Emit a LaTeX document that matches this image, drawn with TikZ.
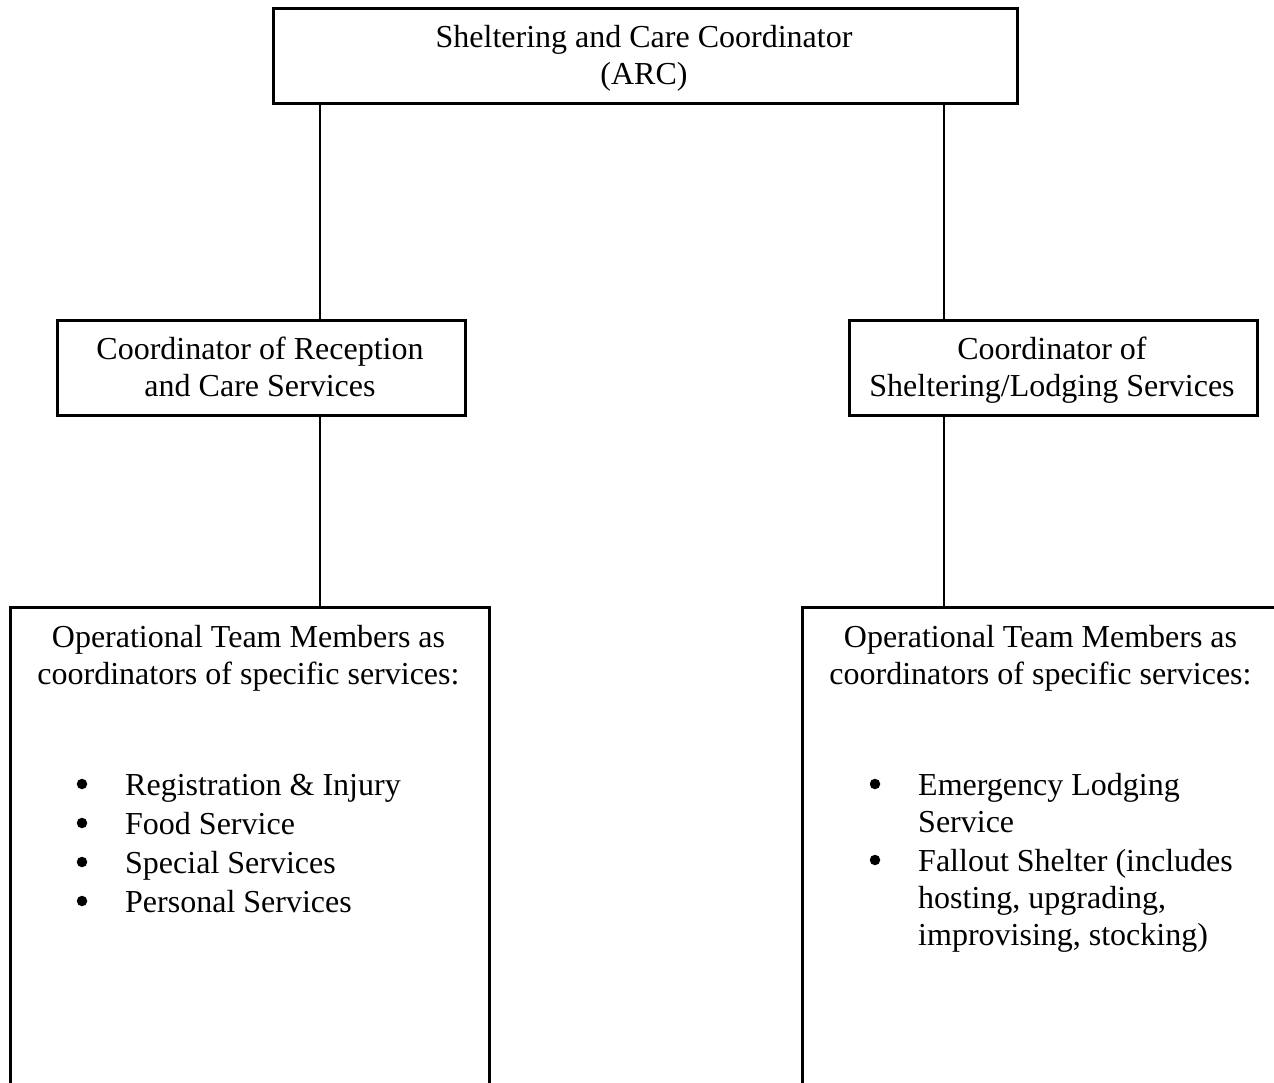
\documentclass[tikz,border=0pt]{standalone}
\usepackage{fontspec}
\setmainfont{Liberation Serif}
\newcommand\mystrut{\rule{0pt}{26pt}}
\begin{document}
\begin{tikzpicture}[x=1pt,y=-1pt,
  every node/.style={font=\fontsize{32}{37}\selectfont},
  box/.style={draw, line width=2.6pt, inner sep=0pt, anchor=north west},
  conn/.style={draw, line width=2.6pt},
  ctext/.style={anchor=north, inner sep=0pt, align=center},
  ltext/.style={anchor=north west, inner sep=0pt, align=left},
  bul/.style={circle, fill, inner sep=0pt, minimum size=10.5pt}]
\useasboundingbox (0,0) rectangle (1274,1082);
\clip (0,0) rectangle (1274,1082);
% boxes
\node[box, minimum width=744pt, minimum height=95pt] (top) at (272,7) {};
\node[box, minimum width=408pt, minimum height=95pt] (ml) at (56,319) {};
\node[box, minimum width=408pt, minimum height=95pt] (mr) at (848,319) {};
\node[box, minimum width=479pt, minimum height=520pt] (bl) at (9,606) {};
\node[box, minimum width=479pt, minimum height=520pt] (br) at (801,606) {};
% texts
\node[ctext] (ttop) at (644,47-26) {\mystrut Sheltering and Care Coordinator\\(ARC)};
\node[ctext] (tml) at (260,359-26) {\mystrut Coordinator of Reception\\and Care Services};
\node[ctext] (tmr) at (1052,359-26) {\mystrut Coordinator of\\Sheltering/Lodging Services};
\node[ctext] (tbl) at (248.5,647-26) {\mystrut Operational Team Members as\\coordinators of specific services:};
\node[ctext] (tbr) at (1040.5,647-26) {\mystrut Operational Team Members as\\coordinators of specific services:};
% left list
\node[bul] (bl1) at (82,795-11) {};
\node[bul] (bl2) at (82,834-11) {};
\node[bul] (bl3) at (82,873-11) {};
\node[bul] (bl4) at (82,912-11) {};
\node[anchor=base west, inner sep=0pt] (il1) at (125,795) {Registration \& Injury};
\node[anchor=base west, inner sep=0pt] (il2) at (125,834) {Food Service};
\node[anchor=base west, inner sep=0pt] (il3) at (125,873) {Special Services};
\node[anchor=base west, inner sep=0pt] (il4) at (125,912) {Personal Services};
% right list
\node[bul] (br1) at (875,795-11) {};
\node[bul] (br2) at (875,871-11) {};
\node[ltext] (ir1) at (918,795-26) {\mystrut Emergency Lodging\\Service};
\node[ltext] (ir2) at (918,871-26) {\mystrut Fallout Shelter (includes\\hosting, upgrading,\\improvising, stocking)};
% connectors
\coordinate (xl) at (320,0);
\coordinate (xr) at (944,0);
\draw[conn] (top.south -| xl) -- (ml.north -| xl);
\draw[conn] (top.south -| xr) -- (mr.north -| xr);
\draw[conn] (ml.south -| xl) -- (bl.north -| xl);
\draw[conn] (mr.south -| xr) -- (br.north -| xr);
\end{tikzpicture}
\end{document}
